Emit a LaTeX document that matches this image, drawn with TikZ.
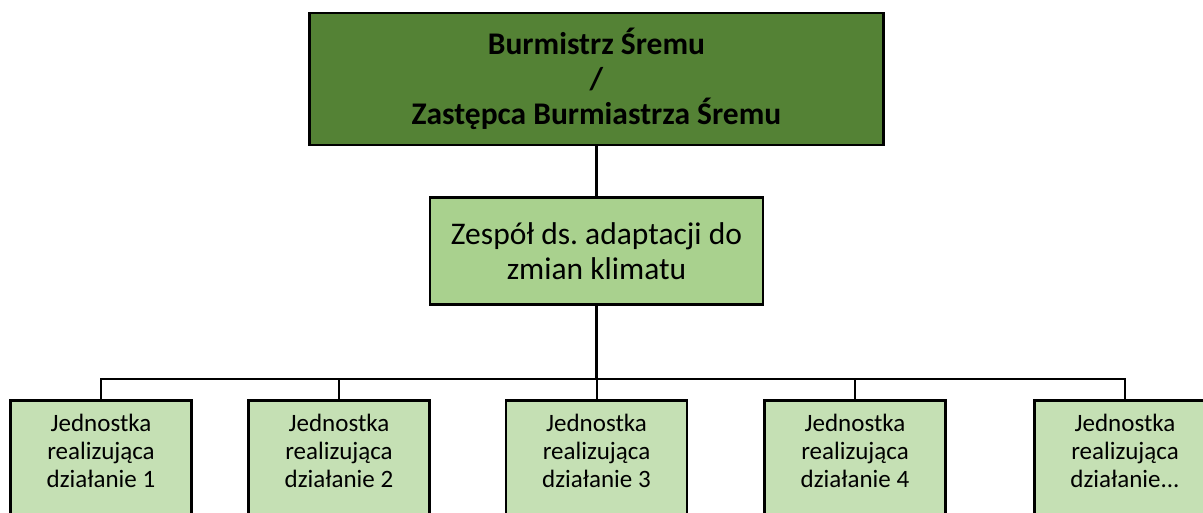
\documentclass[tikz,border=0pt]{standalone}
\usepackage{fontspec}
\setmainfont{Carlito}
\usepackage{tikz}
\usetikzlibrary{positioning, calc}
\definecolor{bossgreen}{HTML}{548235}
\definecolor{teamgreen}{HTML}{A9D18E}
\definecolor{unitgreen}{HTML}{C5E0B4}
\frenchspacing

\begin{document}
\begin{tikzpicture}[x=1pt, y=-1pt, line width=2.5pt,
    bossbox/.style={draw, rectangle, fill=bossgreen, minimum width=574, minimum height=132,
        align=center, font=\fontsize{31.5}{35}\selectfont\bfseries},
    teambox/.style={draw, rectangle, fill=teamgreen, minimum width=333, minimum height=107,
        align=center, font=\fontsize{31.5}{35}\selectfont},
    unitbox/.style={draw, rectangle, fill=unitgreen, minimum width=181, anchor=north,
        inner ysep=14, text depth=70, align=center, font=\fontsize{25}{28}\selectfont}]
    \useasboundingbox (0,0) rectangle (1203,513);
    \clip (0,0) rectangle (1203,513);

    % Burmistrz (x=596.5, y=79)
    \node[bossbox] (boss) at (596.5, 79) {Burmistrz Śremu\\/\\Zastępca Burmiastrza Śremu};

    % Zespol (x=596.5, y=251)
    \node[teambox] (team) at (596.5, 251) {Zespół ds. adaptacji do\\zmian klimatu};

    % Jednostki (y=399)
    \node[unitbox] (u1) at (101, 399) {Jednostka\\realizująca\\działanie 1};
    \node[unitbox] (u2) at (339, 399) {Jednostka\\realizująca\\działanie 2};
    \node[unitbox] (u3) at (596.5, 399) {Jednostka\\realizująca\\działanie 3};
    \node[unitbox] (u4) at (855, 399) {Jednostka\\realizująca\\działanie 4};
    \node[unitbox] (u5) at (1125, 399) {Jednostka\\realizująca\\działanie...};

    % Lines
    \coordinate (bus) at (596.5, 379);
    \draw (boss.south) -- (team.north);
    \draw (team.south) -- (bus);
    \draw[line width=2pt] (u1.north) |- (u5.north |- bus) -- (u5.north);
    \foreach \i in {2,3,4}
        \draw[line width=2pt] (u\i.north) -- (u\i.north |- bus);
\end{tikzpicture}
\end{document}
